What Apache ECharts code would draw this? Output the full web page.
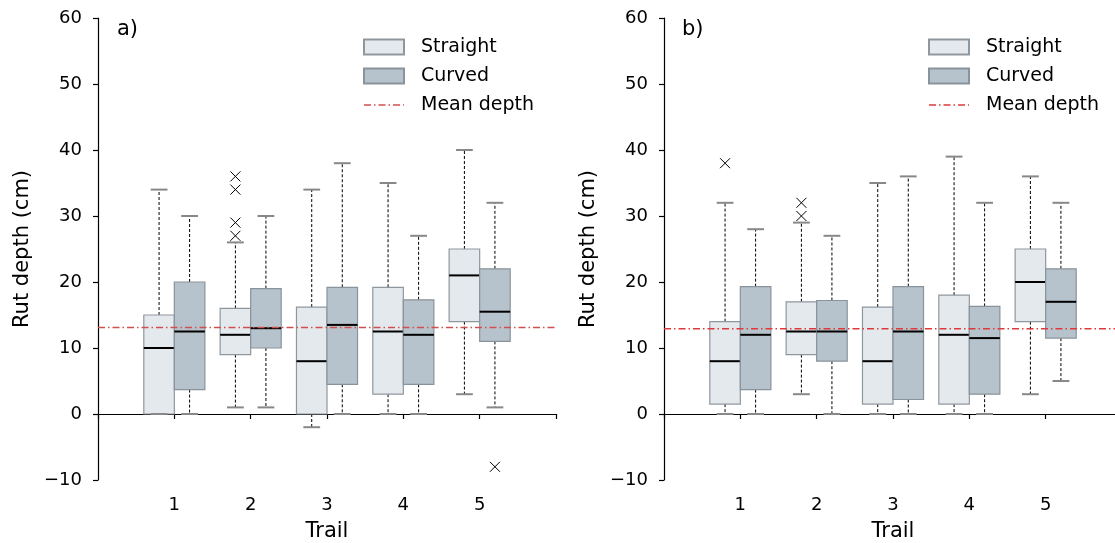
<!DOCTYPE html>
<html>
<head>
<meta charset="utf-8">
<script src="https://cdn.jsdelivr.net/npm/echarts@6/dist/echarts.min.js"></script>
<style>
  html, body { margin: 0; padding: 0; background: #fff; }
  #chart { width: 1115px; height: 543px; }
</style>
</head>
<body>
<div id="chart"></div>
<script>
// trails on the x axis
var trails = [1, 2, 3, 4, 5];
var yTicks = [-10, 0, 10, 20, 30, 40, 50, 60];

// box stats per trail: [min whisker, q1, median, q3, max whisker]
var straightA = [[0, 0, 10, 15, 34], [1, 9, 12, 16, 26], [-2, 0, 8, 16.2, 34], [0, 3, 12.5, 19.2, 35], [3, 14, 21, 25, 40]];
var curvedA = [[0, 3.7, 12.5, 20, 30], [1, 10, 13, 19, 30], [0, 4.5, 13.5, 19.2, 38], [0, 4.5, 12, 17.3, 27], [1, 11, 15.5, 22, 32]];
var straightB = [[0, 1.5, 8, 14, 32], [3, 9, 12.5, 17, 29], [0, 1.5, 8, 16.2, 35], [0, 1.5, 12, 18, 39], [3, 14, 20, 25, 36]];
var curvedB = [[0, 3.7, 12, 19.3, 28], [0, 8, 12.5, 17.2, 27], [0, 2.2, 12.5, 19.3, 36], [0, 3, 11.5, 16.3, 32], [5, 11.5, 17, 22, 32]];

// outliers: [trail, value]
var outStraightA = [[2, 27], [2, 29], [2, 34], [2, 36]];
var outCurvedA = [[5, -8]];
var outStraightB = [[1, 38], [2, 30], [2, 32]];
var outCurvedB = [];

var meanA = 13.1;
var meanB = 12.9;

var FONT = 'DejaVu Sans';
var straightFill = '#e4e9ed', straightEdge = '#8f979e';
var curvedFill = '#b7c3cc', curvedEdge = '#89939b';
var capColor = '#888888';
var meanColorA = '#d24f4f', meanColorB = '#dd3b3b';
// dash-dot legend glyph
var dashDotIcon = 'path://M0,0h7v1.3h-7zM10,0h1.5v1.3h-1.5zM14.5,0h7v1.3h-7zM24.5,0h1.5v1.3h-1.5zM29,0h7v1.3h-7zM39,0h1v1.3h-1z';

function boxData(stats, offset) {
    var out = [];
    for (var i = 0; i < stats.length; i++) {
        out.push([trails[i] + offset].concat(stats[i]));
    }
    return out;
}

function outData(list, offset) {
    return list.map(function(p) { return [p[0] + offset, p[1]]; });
}

function renderBox(fill, edge) {
    return function(params, api) {
        var x = api.value(0);
        var pMin = api.coord([x, api.value(1)]);
        var pQ1 = api.coord([x, api.value(2)]);
        var pMed = api.coord([x, api.value(3)]);
        var pQ3 = api.coord([x, api.value(4)]);
        var pMax = api.coord([x, api.value(5)]);
        var w = api.size([0.4, 0])[0];
        var cw = api.size([0.22, 0])[0];
        var cx = pMed[0];
        var whisk = { stroke: '#000', lineWidth: 1, lineDash: [3, 2] };
        var cap = { stroke: capColor, lineWidth: 2 };
        return {
            type: 'group',
            children: [
                { type: 'line', shape: { x1: cx, y1: pQ3[1], x2: cx, y2: pMax[1] }, style: whisk },
                { type: 'line', shape: { x1: cx, y1: pQ1[1], x2: cx, y2: pMin[1] }, style: whisk },
                { type: 'rect', shape: { x: cx - w / 2, y: pQ3[1], width: w, height: pQ1[1] - pQ3[1] },
                  style: { fill: fill, stroke: edge, lineWidth: 1.2 } },
                { type: 'line', shape: { x1: cx - cw / 2, y1: pMax[1], x2: cx + cw / 2, y2: pMax[1] }, style: cap },
                { type: 'line', shape: { x1: cx - cw / 2, y1: pMin[1], x2: cx + cw / 2, y2: pMin[1] }, style: cap },
                { type: 'line', shape: { x1: cx - w / 2, y1: pMed[1], x2: cx + w / 2, y2: pMed[1] },
                  style: { stroke: '#000', lineWidth: 2 } }
            ]
        };
    };
}

function renderCross(params, api) {
    var p = api.coord([api.value(0), api.value(1)]);
    var s = 5;
    var st = { stroke: '#000', lineWidth: 1 };
    return {
        type: 'group',
        children: [
            { type: 'line', shape: { x1: p[0] - s, y1: p[1] - s, x2: p[0] + s, y2: p[1] + s }, style: st },
            { type: 'line', shape: { x1: p[0] - s, y1: p[1] + s, x2: p[0] + s, y2: p[1] - s }, style: st }
        ]
    };
}

// mean line drawn as a custom series so its colour is fixed per panel
function renderMean(color) {
    return function(params, api) {
        var p0 = api.coord([api.value(0), api.value(2)]);
        var p1 = api.coord([api.value(1), api.value(2)]);
        return {
            type: 'line',
            shape: { x1: p0[0], y1: p0[1], x2: p1[0], y2: p1[1] },
            style: { stroke: color, lineWidth: 1.5, lineDash: [7, 3, 1.5, 3] }
        };
    };
}

var grids = [
    { left: 98, top: 18, width: 458, height: 462, outerBoundsMode: 'none' },
    { left: 664, top: 18, width: 458, height: 462, outerBoundsMode: 'none' }
];

function xAxis(idx) {
    return {
        type: 'value', gridIndex: idx, min: 0, max: 6, interval: 1,
        name: 'Trail', nameLocation: 'middle', nameGap: 41,
        nameTextStyle: { fontFamily: FONT, fontSize: 21, color: '#000' },
        axisLine: { lineStyle: { color: '#000', width: 1.2 } },
        axisTick: { length: 5, lineStyle: { color: '#000', width: 1.2 } },
        axisLabel: { fontFamily: FONT, fontSize: 18, color: '#000', margin: 16,
            formatter: function(v) { return trails.indexOf(v) >= 0 ? String(v) : ''; } },
        splitLine: { show: false }
    };
}

function yAxis(idx) {
    return {
        type: 'value', gridIndex: idx, min: yTicks[0], max: yTicks[yTicks.length - 1], interval: 10,
        name: 'Rut depth (cm)', nameLocation: 'middle', nameGap: 65, nameRotate: 90,
        nameTextStyle: { fontFamily: FONT, fontSize: 21, color: '#000' },
        axisLine: { show: true, lineStyle: { color: '#000', width: 1.2 } },
        axisTick: { show: true, length: 5, lineStyle: { color: '#000', width: 1.2 } },
        axisLabel: { fontFamily: FONT, fontSize: 18, color: '#000', margin: 16,
            formatter: function(v) { return String(v).replace('-', '\u2212'); } },
        splitLine: { show: false }
    };
}

function panelSeries(idx, straight, curved, outS, outC, mean, meanColor) {
    return [
        { name: 'Straight', type: 'custom', xAxisIndex: idx, yAxisIndex: idx,
          renderItem: renderBox(straightFill, straightEdge), data: boxData(straight, -0.2),
          itemStyle: { color: straightFill, borderColor: straightEdge, borderWidth: 1 }, z: 2 },
        { name: 'Curved', type: 'custom', xAxisIndex: idx, yAxisIndex: idx,
          renderItem: renderBox(curvedFill, curvedEdge), data: boxData(curved, 0.2),
          itemStyle: { color: curvedFill, borderColor: curvedEdge, borderWidth: 1 }, z: 2 },
        { name: 'outS' + idx, type: 'custom', xAxisIndex: idx, yAxisIndex: idx,
          renderItem: renderCross, data: outData(outS, -0.2), z: 3 },
        { name: 'outC' + idx, type: 'custom', xAxisIndex: idx, yAxisIndex: idx,
          renderItem: renderCross, data: outData(outC, 0.2), z: 3 },
        { name: 'Mean depth', type: 'custom', xAxisIndex: idx, yAxisIndex: idx,
          renderItem: renderMean(meanColor), data: [[0, 6, mean]], silent: true,
          itemStyle: { color: meanColor }, z: 4 }
    ];
}

function legend(idx, left, meanColor) {
    return {
        left: left, top: 37, padding: 0, orient: 'vertical', itemWidth: 40, itemHeight: 15, itemGap: 9,
        data: [
            { name: 'Straight', icon: 'rect' },
            { name: 'Curved', icon: 'rect' },
            { name: 'Mean depth', icon: dashDotIcon, itemStyle: { color: meanColor, borderWidth: 0 } }
        ],
        textStyle: { fontFamily: FONT, fontSize: 19, lineHeight: 20, color: '#000', padding: [0, 0, 0, 12] },
        selectedMode: false
    };
}

var chart = echarts.init(document.getElementById('chart'), null, { renderer: 'canvas' });
chart.setOption({
    backgroundColor: '#fff',
    animation: false,
    grid: grids,
    xAxis: [xAxis(0), xAxis(1)],
    yAxis: [yAxis(0), yAxis(1)],
    legend: [legend(0, 363, meanColorA), legend(1, 928, meanColorB)],
    graphic: [
        { type: 'text', left: 117, top: 19, style: { text: 'a)', font: '21px DejaVu Sans', fill: '#000' } },
        { type: 'text', left: 682, top: 19, style: { text: 'b)', font: '21px DejaVu Sans', fill: '#000' } }
    ],
    series: [].concat(
        panelSeries(0, straightA, curvedA, outStraightA, outCurvedA, meanA, meanColorA),
        panelSeries(1, straightB, curvedB, outStraightB, outCurvedB, meanB, meanColorB)
    )
});
</script>
</body>
</html>
